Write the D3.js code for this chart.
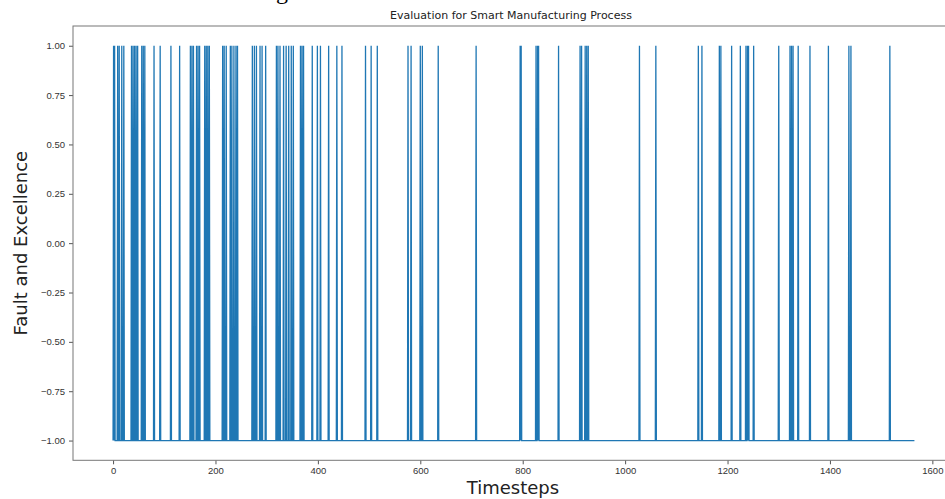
<!DOCTYPE html>
<html>
<head>
<meta charset="utf-8">
<script src="https://d3js.org/d3.v7.min.js"></script>
<style>
  body { margin: 0; background: #fff; }
  svg { display: block; font-family: "DejaVu Sans", sans-serif; }
  .tick text { fill: #333; font-size: 9.5px; }
  .tick line { stroke: #555; }
</style>
</head>
<body>
<svg id="chart" width="945" height="499"></svg>
<script>
// number of timesteps in the run
const nSteps = 1566;
// timesteps where the process flagged a fault (value 1), everything else is -1
const faultSteps = [
  1, 3, 9, 12, 17, 21, 36, 39, 42, 45, 48, 56, 59, 62, 80, 92, 113, 130,
  151, 154, 157, 163, 166, 169, 179, 182, 185, 188, 214, 217, 221,
  229, 232, 236, 240, 243, 272, 276, 280, 287, 291, 298,
  319, 322, 326, 333, 338, 343, 348, 352, 366, 369, 372, 389, 399, 405,
  421, 437, 447, 493, 504, 516, 576, 582, 600, 604, 635, 709,
  795, 797, 826, 829, 831, 870, 912, 915, 922, 925, 928,
  1028, 1060, 1143, 1150, 1184, 1187, 1208, 1225, 1236, 1239, 1241, 1251,
  1300, 1322, 1325, 1328, 1338, 1361, 1397, 1437, 1441, 1517
];
const xTicks = [0, 200, 400, 600, 800, 1000, 1200, 1400, 1600];
const yTicks = [-1, -0.75, -0.5, -0.25, 0, 0.25, 0.5, 0.75, 1];

const faultSet = new Set(faultSteps);
const series = d3.range(nSteps).map(i => ({ t: i, v: faultSet.has(i) ? 1 : -1 }));

const svg = d3.select("#chart");

const plotLeft = 73, plotRight = 954.5, plotTop = 26, plotBottom = 460.3;

const x = d3.scaleLinear().domain([-78.25, 1643.25]).range([plotLeft, plotRight]);
const y = d3.scaleLinear().domain([-1.1, 1.1]).range([plotBottom, plotTop]);

// bit of cropped document text at the very top
svg.append("text")
    .attr("x", 276).attr("y", -1)
    .attr("font-family", "Liberation Serif, serif")
    .attr("font-size", 24)
    .attr("fill", "#000")
    .text("g");

svg.append("text")
    .attr("x", 511).attr("y", 19)
    .attr("text-anchor", "middle")
    .attr("font-size", 11)
    .attr("fill", "#222")
    .text("Evaluation for Smart Manufacturing Process");

const fmt = d => d3.format(".2f")(d);

svg.append("g")
    .attr("transform", `translate(0,${plotBottom})`)
    .call(d3.axisBottom(x).tickValues(xTicks).tickSize(4).tickPadding(3).tickFormat(d3.format("d")))
    .call(g => g.select(".domain").remove());

svg.append("g")
    .attr("transform", `translate(${plotLeft},0)`)
    .call(d3.axisLeft(y).tickValues(yTicks).tickSize(4).tickPadding(4).tickFormat(fmt))
    .call(g => g.select(".domain").remove());

// frame
svg.append("rect")
    .attr("x", plotLeft).attr("y", plotTop)
    .attr("width", plotRight - plotLeft).attr("height", plotBottom - plotTop)
    .attr("fill", "none")
    .attr("stroke", "#777")
    .attr("stroke-width", 1);

svg.append("path")
    .datum(series)
    .attr("fill", "none")
    .attr("stroke", "#1f77b4")
    .attr("stroke-width", 1.3)
    .attr("d", d3.line().x(d => x(d.t)).y(d => y(d.v)));

svg.append("text")
    .attr("x", 513).attr("y", 494)
    .attr("text-anchor", "middle")
    .attr("font-size", 18)
    .attr("fill", "#222")
    .text("Timesteps");

svg.append("text")
    .attr("transform", `translate(27,${(plotTop + plotBottom) / 2}) rotate(-90)`)
    .attr("text-anchor", "middle")
    .attr("font-size", 18)
    .attr("fill", "#222")
    .text("Fault and Excellence");
</script>
</body>
</html>
